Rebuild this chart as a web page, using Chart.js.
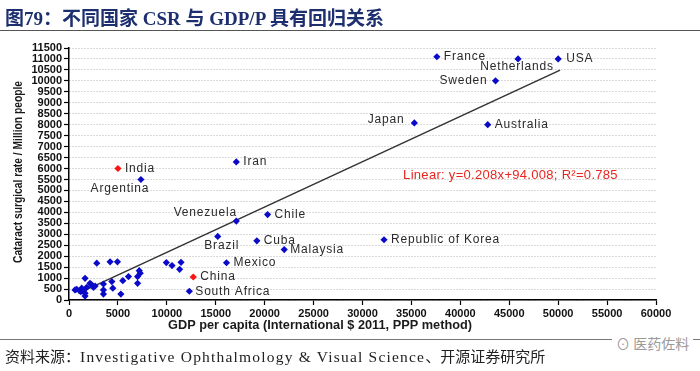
<!DOCTYPE html>
<html>
<head>
<meta charset="utf-8">
<script src="https://cdn.jsdelivr.net/npm/chart.js@4"></script>
<style>
  body { margin: 0; background: #fff; }
  #wrap { position: relative; width: 700px; height: 371px; overflow: hidden; }
  #chart { position: absolute; left: 0; top: 0; }
  .title {
    position: absolute; left: 5px; top: 3px;
    font: bold 19px "Liberation Serif", "Noto Sans CJK SC", serif;
    color: #1d2f6f; white-space: nowrap;
  }
  .rule { position: absolute; left: 0; width: 700px; height: 0; }
  .source {
    position: absolute; left: 5px; top: 345px;
    font: 15px "Noto Sans CJK SC", serif;
    color: #222; white-space: nowrap;
  }
  .source .lat { font: 15.5px "Liberation Serif", serif; letter-spacing: 1.2px; }
  .mark {
    position: absolute; left: 612px; top: 333px;
    font: 14px "Noto Sans CJK SC", sans-serif; color: #9a9a9a;
    background: #fff; padding: 0 4px;
  }
</style>
</head>
<body>
<div id="wrap">
  <canvas id="chart" width="700" height="371"></canvas>
  <div class="title">图79：不同国家 CSR 与 GDP/P 具有回归关系</div>
  <div class="rule" style="top:30px;border-top:1.5px solid #555;"></div>
  <div class="rule" style="top:339px;border-top:1px solid #777;"></div>
  <div class="mark">⊙ 医药佐料</div>
  <div class="source">资料来源：<span class="lat">Investigative Ophthalmology &amp; Visual Science</span>、开源证券研究所</div>
</div>
<script>
// labelled countries
const countryNames = ['France', 'Netherlands', 'USA', 'Sweden', 'Japan', 'Australia', 'Iran', 'India',
  'Argentina', 'Venezuela', 'Chile', 'Brazil', 'Cuba', 'Malaysia', 'Republic of Korea', 'Mexico', 'China', 'South Africa'];
const countryGdp = [37600, 45900, 50000, 43600, 35300, 42800, 17100, 5000,
  7350, 17100, 20300, 15200, 19200, 22000, 32200, 16100, 12700, 12300];
const countryCsr = [11100, 11000, 11000, 10000, 8080, 8000, 6300, 6000,
  5500, 3600, 3900, 2900, 2700, 2300, 2750, 1700, 1050, 400];
const redCountries = ['India', 'China'];

// unlabelled countries (cluster near origin)
const otherGdp = [2840, 4200, 4950, 9950, 10530, 11450, 11310, 7180, 7280, 7010, 7010, 6080, 5500, 4380, 4480, 5300,
  3520, 3520, 3520, 1640, 2150, 2330, 2670, 2500, 1815, 1300, 790, 1200, 1640, 1640, 1470, 615];
const otherCsr = [1680, 1740, 1740, 1710, 1570, 1720, 1400, 1340, 1220, 1070, 760, 1070, 880, 840, 540, 270,
  730, 460, 270, 990, 760, 690, 640, 580, 580, 540, 490, 380, 310, 180, 430, 460];

// regression line ends, as drawn
const trendGdp = [950, 50200];
const trendCsr = [300, 10490];

const xTicks = [0, 5000, 10000, 15000, 20000, 25000, 30000, 35000, 40000, 45000, 50000, 55000, 60000];
const yMax = 11500;
const fitText = 'Linear: y=0.208x+94.008; R²=0.785';

const blue = '#0a0ac8';
const red = '#ff1414';

// where each label sits relative to its marker
const labelPlace = {
  'France': ['left', 7, 0], 'Netherlands': ['center', -1, 8], 'USA': ['left', 8, 0],
  'Sweden': ['right', -8, 0], 'Japan': ['right', -10, -3], 'Australia': ['left', 7, 0],
  'Iran': ['left', 7, 0], 'India': ['left', 7, 0], 'Argentina': ['center', -21, 9],
  'Venezuela': ['center', -31, -8], 'Chile': ['left', 7, 0], 'Brazil': ['center', 4, 9.5],
  'Cuba': ['left', 7, 0], 'Malaysia': ['left', 6, 0], 'Republic of Korea': ['left', 7, 0],
  'Mexico': ['left', 7, 0], 'China': ['left', 7, 0], 'South Africa': ['left', 6, 0]
};

const labelsPlugin = {
  id: 'labels',
  afterDatasetsDraw(chart) {
    const ctx = chart.ctx;
    const meta = chart.getDatasetMeta(0);
    ctx.save();
    ctx.font = '12px "Liberation Sans", Arial, sans-serif';
    ctx.letterSpacing = '0.8px';
    ctx.fillStyle = '#2a2a2a';
    ctx.textBaseline = 'middle';
    meta.data.forEach((pt, i) => {
      const p = labelPlace[countryNames[i]];
      ctx.textAlign = p[0];
      ctx.fillText(countryNames[i], pt.x + p[1], pt.y + p[2]);
    });

    // fit equation
    const xs = chart.scales.x, ys = chart.scales.y;
    ctx.fillStyle = '#e8261e';
    ctx.font = '13px "Liberation Sans", Arial, sans-serif';
    ctx.letterSpacing = '0.3px';
    ctx.textAlign = 'left';
    ctx.fillText(fitText, xs.getPixelForValue(34150), ys.getPixelForValue(5670));
    ctx.letterSpacing = '0px';

    // axis titles, squeezed to the reference widths
    ctx.fillStyle = '#1a1a1a';
    ctx.font = 'bold 13px "Liberation Sans", Arial, sans-serif';
    const xt = 'GDP per capita (International $ 2011, PPP method)';
    let w = ctx.measureText(xt).width;
    ctx.save();
    ctx.translate(320, 325);
    ctx.scale(304 / w, 1);
    ctx.textAlign = 'center';
    ctx.fillText(xt, 0, 0);
    ctx.restore();

    const yt = 'Cataract surgical rate / Million people';
    ctx.font = 'bold 13px "Liberation Sans", Arial, sans-serif';
    w = ctx.measureText(yt).width;
    ctx.save();
    ctx.translate(18, 172);
    ctx.rotate(-Math.PI / 2);
    ctx.scale(182 / w, 1);
    ctx.textAlign = 'center';
    ctx.fillText(yt, 0, 0);
    ctx.restore();
    ctx.restore();
  }
};

const tickFont = { family: '"Liberation Sans", Arial, sans-serif', size: 11, weight: 'bold' };

new Chart(document.getElementById('chart'), {
  type: 'scatter',
  data: {
    datasets: [
      {
        data: countryNames.map((n, i) => ({ x: countryGdp[i], y: countryCsr[i] })),
        pointStyle: 'rectRot',
        pointRadius: 3.6,
        borderWidth: 0,
        backgroundColor: countryNames.map(n => redCountries.includes(n) ? red : blue)
      },
      {
        data: otherGdp.map((g, i) => ({ x: g, y: otherCsr[i] })),
        pointStyle: 'rectRot',
        pointRadius: 3.6,
        borderWidth: 0,
        backgroundColor: blue
      },
      {
        type: 'line',
        data: trendGdp.map((g, i) => ({ x: g, y: trendCsr[i] })),
        borderColor: '#333',
        borderWidth: 1.5,
        pointRadius: 0,
        fill: false
      }
    ]
  },
  options: {
    responsive: false,
    animation: false,
    events: [],
    layout: { padding: { left: 0, top: 48, right: 44, bottom: 0 } },
    plugins: { legend: { display: false }, tooltip: { enabled: false } },
    scales: {
      x: {
        type: 'linear', min: 0, max: 60000,
        afterFit(s) { s.height = 71; },
        afterBuildTicks(s) { s.ticks = xTicks.map(v => ({ value: v })); },
        ticks: { font: tickFont, color: '#111', padding: 2, maxRotation: 0, autoSkip: false, callback: v => String(v) },
        grid: { drawOnChartArea: false, tickLength: 5, tickColor: '#000', tickWidth: 1.2 },
        border: { color: '#000', width: 1.5 }
      },
      y: {
        min: 0, max: yMax,
        afterFit(s) { s.width = 69; },
        ticks: { stepSize: 500, font: tickFont, color: '#111', padding: 2, autoSkip: false, callback: v => String(v) },
        grid: { color: '#b5b5b5', lineWidth: 1, tickLength: 5, tickColor: '#000', tickWidth: 1.2, tickBorderDash: [] },
        border: { color: '#000', width: 1.5, dash: [1, 2] }
      }
    }
  },
  plugins: [labelsPlugin]
});
</script>
</body>
</html>
